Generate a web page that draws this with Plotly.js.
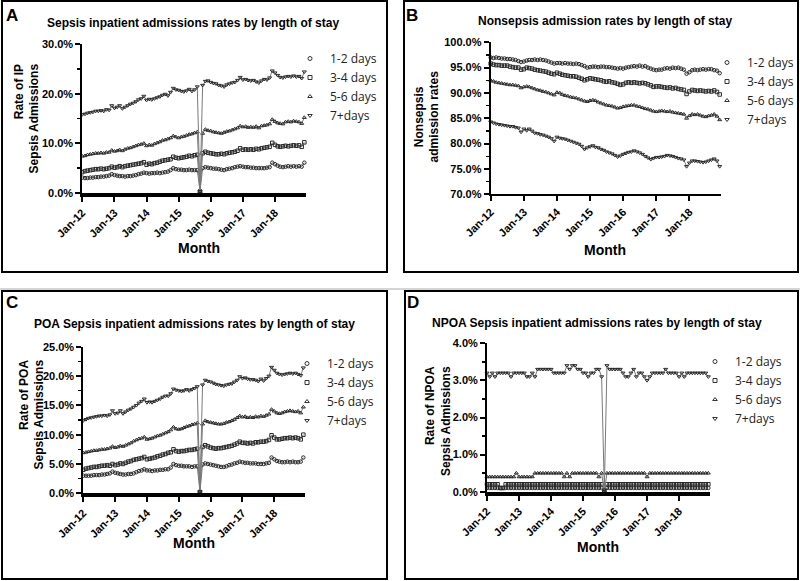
<!DOCTYPE html>
<html>
<head>
<meta charset="utf-8">
<script src="https://cdn.plot.ly/plotly-3.0.1.min.js"></script>
<style>html,body{margin:0;padding:0;background:#fff;}#chart{width:800px;height:581px;}</style>
</head>
<body>
<div id="chart"></div>
<script>
// ---------- categories ----------
const seriesNames = ['1-2 days', '3-4 days', '5-6 days', '7+days'];
const months = [];
for (let yr = 2012; yr <= 2018; yr++) for (let m = 1; m <= 12; m++) months.push(yr + '-' + String(m).padStart(2, '0') + '-01');

// ---------- Panel A: Sepsis inpatient admission rates (%) ----------
const A_12 = [3.1,3.0,3.0,3.1,3.1,3.2,3.2,3.3,3.3,3.4,3.5,3.8,
  3.6,3.5,3.4,3.4,3.3,3.4,3.4,3.5,3.6,3.8,3.9,4.1,
  4.0,3.9,4.0,4.0,4.1,4.0,4.1,4.2,4.3,4.6,5.0,4.8,
  4.7,4.7,4.6,4.6,4.7,4.6,4.6,4.6,0.4,5.0,5.2,5.1,
  5.0,4.9,4.9,4.8,4.7,4.6,4.8,4.9,5.0,5.2,5.3,5.4,
  5.3,5.2,5.2,5.1,5.1,5.0,5.0,5.0,5.0,5.1,5.2,6.1,
  5.8,5.5,5.3,5.2,5.3,5.4,5.3,5.4,5.3,5.4,5.3,6.1];
const A_34 = [4.2,4.4,4.5,4.6,4.7,4.8,4.8,4.9,4.8,4.9,5.0,5.3,
  5.1,5.2,5.4,5.2,5.4,5.5,5.6,5.7,5.8,5.9,6.0,6.2,
  5.7,5.9,5.8,6.0,6.1,6.3,6.5,6.6,6.7,6.8,7.3,7.1,
  7.0,7.1,7.2,7.3,7.5,7.4,7.6,7.7,0.3,8.0,8.3,8.1,
  8.0,7.9,7.8,7.8,7.9,7.8,8.0,8.1,8.2,8.3,8.5,9.0,
  8.7,8.8,8.7,8.8,8.7,8.9,8.8,9.0,9.1,9.2,9.3,10.1,
  9.7,9.4,9.3,9.4,9.5,9.4,9.5,9.6,9.5,9.6,9.3,10.2];
const A_56 = [7.4,7.5,7.7,7.8,7.9,8.0,8.0,8.1,8.0,8.2,8.2,8.6,
  8.4,8.5,8.7,8.5,8.8,9.0,9.1,9.3,9.5,9.7,9.8,10.0,
  9.5,9.7,9.6,9.9,10.1,10.3,10.6,10.7,10.9,11.1,11.5,11.3,
  11.1,11.3,11.4,11.6,11.8,11.9,12.1,12.3,0.2,12.0,12.8,12.6,
  12.5,12.3,12.2,12.1,12.0,12.2,12.4,12.5,12.7,12.9,13.1,13.5,
  13.3,13.4,13.2,13.3,13.2,13.4,13.1,13.5,13.6,13.7,13.9,14.8,
  14.4,14.1,14.0,13.9,14.3,14.4,14.3,14.5,14.4,14.3,14.0,15.2];
const A_7 = [15.8,15.9,16.1,16.2,16.3,16.5,16.5,16.6,16.5,16.8,16.7,17.6,
  17.1,17.3,17.6,17.0,17.3,17.6,17.9,18.1,18.4,18.8,19.0,19.5,
  18.7,18.9,18.8,19.0,19.2,19.4,19.7,19.9,19.6,20.3,21.1,20.8,
  20.7,20.5,20.4,20.6,20.9,20.5,20.8,21.4,0.3,21.7,22.5,22.6,
  22.3,22.1,22.0,21.7,21.6,21.4,21.8,22.0,22.2,22.3,22.7,23.3,
  22.8,22.9,22.7,22.6,22.7,22.4,22.2,22.6,22.9,22.8,23.2,24.6,
  24.2,23.7,23.3,23.2,23.4,23.5,23.4,23.6,23.4,23.5,23.1,24.4];

// ---------- Panel B: Nonsepsis admission rates (%) ----------
const B_12 = [97.0,96.9,97.0,96.9,96.8,96.8,96.7,96.7,96.6,96.5,96.3,96.1,
  96.2,96.4,96.5,96.5,96.6,96.5,96.6,96.5,96.4,96.2,96.0,95.8,
  95.9,95.9,95.8,95.9,95.8,95.8,95.7,95.8,95.7,95.5,95.3,95.0,
  95.1,95.2,95.2,95.1,95.2,95.2,95.1,95.1,95.0,94.9,94.8,94.9,
  94.8,95.0,95.1,95.2,95.3,95.2,95.4,95.2,95.3,95.0,94.8,94.6,
  94.5,94.6,94.6,94.8,94.9,94.8,95.0,94.9,95.0,94.8,94.6,93.8,
  94.1,94.5,94.6,94.5,94.6,94.7,94.6,94.7,94.7,94.5,94.4,93.9];
const B_34 = [95.8,95.6,95.5,95.5,95.4,95.4,95.4,95.2,95.1,95.0,95.0,94.6,
  94.7,95.0,94.9,94.8,94.6,94.5,94.4,94.3,94.2,94.0,93.8,93.7,
  94.0,93.8,93.6,93.5,93.4,93.3,93.3,93.2,93.0,92.8,92.5,92.7,
  92.9,92.8,92.7,92.6,92.5,92.3,92.2,92.3,92.1,92.0,91.8,91.6,
  91.7,92.0,92.1,92.0,92.1,92.0,91.9,92.0,91.9,91.7,91.5,91.2,
  91.3,91.3,91.2,91.1,91.0,91.1,90.9,91.0,90.8,90.7,90.6,89.8,
  90.3,90.6,90.5,90.4,90.5,90.4,90.3,90.4,90.3,90.5,90.2,89.7];
const B_56 = [92.5,92.3,92.1,92.0,91.9,91.8,91.7,91.6,91.6,91.5,91.4,91.0,
  91.2,91.3,91.2,91.0,90.8,90.6,90.5,90.3,90.2,90.0,89.8,89.6,
  90.1,90.0,89.7,89.5,89.4,89.2,89.1,89.0,88.8,88.6,88.4,88.3,
  88.5,88.6,88.5,88.2,88.0,87.8,87.6,87.5,87.4,87.2,87.0,87.1,
  87.3,87.4,87.5,87.6,87.6,87.4,87.3,87.1,86.9,86.8,86.6,86.4,
  86.3,86.4,86.5,86.4,86.3,86.4,86.2,86.1,86.0,85.9,85.8,85.0,
  85.5,85.8,85.7,85.8,85.6,85.4,85.3,85.5,85.6,85.8,85.4,84.7];
const B_7 = [84.3,84.1,83.9,83.8,83.7,83.6,83.5,83.4,83.4,83.2,83.1,82.3,
  82.9,82.6,82.9,82.5,82.1,82.0,81.8,81.7,81.5,81.3,81.0,80.5,
  81.3,81.1,81.0,80.9,80.7,80.5,80.3,80.1,79.9,79.5,78.9,79.2,
  79.4,79.6,79.3,79.2,78.9,78.7,78.4,78.2,78.0,77.7,77.4,77.6,
  77.9,78.1,78.3,78.4,78.6,78.4,78.2,77.9,77.5,77.2,76.9,77.1,
  77.3,77.3,77.4,77.5,77.7,77.6,77.5,77.3,77.1,77.0,76.8,75.5,
  76.2,76.6,76.6,76.5,76.4,76.3,76.4,76.6,76.8,77.0,76.6,75.5];

// ---------- Panel C: POA sepsis inpatient admission rates (%) ----------
const C_12 = [3.0,3.0,3.0,3.0,3.1,3.1,3.1,3.2,3.2,3.3,3.4,3.7,
  3.5,3.4,3.3,3.2,3.2,3.3,3.3,3.4,3.6,3.8,3.9,4.1,
  3.9,3.9,3.8,3.9,3.9,4.0,4.0,4.1,4.1,4.4,5.0,4.8,
  4.7,4.7,4.6,4.6,4.6,4.5,4.6,4.6,0.3,4.9,5.1,5.0,
  4.9,4.8,4.7,4.6,4.5,4.5,4.6,4.8,4.9,5.1,5.2,5.4,
  5.3,5.2,5.2,5.1,5.1,5.1,5.0,5.0,5.0,5.1,5.2,6.1,
  5.8,5.5,5.4,5.3,5.3,5.4,5.3,5.4,5.3,5.3,5.4,6.1];
const C_34 = [4.0,4.2,4.3,4.4,4.5,4.5,4.6,4.7,4.7,4.8,4.7,5.0,
  4.8,4.9,5.1,5.0,5.2,5.4,5.5,5.7,5.8,5.9,6.0,6.2,
  5.8,5.9,6.0,6.1,6.3,6.4,6.6,6.7,6.9,7.0,7.5,7.2,
  7.1,7.2,7.2,7.3,7.4,7.4,7.5,7.6,0.2,7.9,8.2,8.0,
  7.8,7.7,7.6,7.7,7.7,7.8,7.9,8.0,8.1,8.3,8.5,8.8,
  8.6,8.6,8.5,8.6,8.5,8.7,8.7,8.8,8.8,8.9,9.1,9.9,
  9.5,9.2,9.2,9.3,9.4,9.4,9.5,9.4,9.5,9.4,9.2,10.0];
const C_56 = [6.9,7.0,7.1,7.2,7.3,7.3,7.4,7.5,7.5,7.6,7.7,8.0,
  7.8,7.9,8.1,8.0,8.2,8.4,8.6,8.9,9.1,9.3,9.4,9.6,
  9.2,9.3,9.4,9.6,9.8,9.9,10.1,10.3,10.5,10.8,11.3,11.0,
  10.9,11.0,11.2,11.4,11.5,11.7,11.8,12.0,0.2,11.8,12.4,12.2,
  12.1,12.0,11.9,11.8,11.8,11.9,12.1,12.2,12.4,12.6,12.9,13.2,
  13.0,13.1,12.9,13.0,12.9,13.1,13.0,13.2,13.1,13.3,13.5,14.3,
  14.0,13.7,13.6,13.7,13.9,14.0,14.1,14.0,13.9,14.0,13.7,14.7];
const C_7 = [12.4,12.6,12.8,12.9,13.0,13.1,13.2,13.2,13.3,13.2,13.4,14.1,
  13.6,13.7,14.1,13.6,13.9,14.2,14.4,14.7,15.0,15.4,15.7,16.1,
  15.5,15.6,15.5,15.7,15.9,16.1,16.4,16.6,16.6,17.0,17.8,17.6,
  17.5,17.4,17.5,17.7,17.5,17.7,17.9,18.2,0.3,18.5,19.3,19.1,
  19.0,18.8,18.6,18.5,18.4,18.3,18.5,18.6,18.7,19.0,19.3,19.9,
  19.6,19.7,19.5,19.4,19.4,19.3,19.1,19.5,19.2,19.6,20.0,21.5,
  21.0,20.5,20.3,20.2,20.3,20.4,20.5,20.4,20.5,20.3,20.1,21.4];

// ---------- Panel D: NPOA sepsis inpatient admission rates (%) ----------
const D_12 = [0.1,0.1,0.1,0.1,0.1,0.1,0.1,0.1,0.1,0.1,0.1,0.1,
  0.1,0.1,0.1,0.1,0.1,0.1,0.1,0.1,0.1,0.1,0.1,0.1,
  0.1,0.1,0.1,0.1,0.1,0.1,0.1,0.1,0.1,0.1,0.1,0.1,
  0.1,0.1,0.1,0.1,0.1,0.1,0.1,0.1,0.0,0.1,0.1,0.1,
  0.1,0.1,0.1,0.1,0.1,0.1,0.1,0.1,0.1,0.1,0.1,0.1,
  0.1,0.1,0.1,0.1,0.1,0.1,0.1,0.1,0.1,0.1,0.1,0.1,
  0.1,0.1,0.1,0.1,0.1,0.1,0.1,0.1,0.1,0.1,0.1,0.1];
const D_34 = [0.2,0.2,0.2,0.2,0.2,0.1,0.1,0.2,0.2,0.2,0.2,0.2,
  0.2,0.2,0.2,0.2,0.2,0.2,0.2,0.2,0.2,0.2,0.2,0.2,
  0.2,0.2,0.2,0.2,0.2,0.2,0.2,0.2,0.2,0.2,0.2,0.2,
  0.2,0.2,0.2,0.2,0.2,0.2,0.2,0.2,0.0,0.2,0.2,0.2,
  0.2,0.2,0.2,0.2,0.2,0.2,0.2,0.2,0.2,0.2,0.2,0.2,
  0.2,0.2,0.2,0.2,0.2,0.2,0.2,0.2,0.2,0.2,0.2,0.2,
  0.2,0.2,0.2,0.2,0.2,0.2,0.2,0.2,0.2,0.2,0.2,0.2];
const D_56 = [0.4,0.4,0.4,0.4,0.4,0.4,0.4,0.4,0.4,0.4,0.4,0.5,
  0.4,0.4,0.4,0.4,0.4,0.4,0.5,0.5,0.5,0.5,0.5,0.5,
  0.5,0.5,0.5,0.5,0.5,0.4,0.5,0.4,0.5,0.5,0.5,0.5,
  0.5,0.5,0.5,0.5,0.5,0.5,0.4,0.5,0.0,0.5,0.5,0.5,
  0.5,0.5,0.5,0.5,0.5,0.5,0.5,0.5,0.5,0.5,0.5,0.5,
  0.4,0.5,0.5,0.5,0.5,0.5,0.5,0.5,0.5,0.5,0.5,0.5,
  0.5,0.5,0.5,0.5,0.5,0.5,0.5,0.5,0.5,0.5,0.5,0.5];
const D_7 = [3.2,3.1,3.2,3.1,3.2,3.2,3.2,3.2,3.2,3.1,3.2,3.2,
  3.2,3.2,3.2,3.1,3.1,3.2,3.1,3.3,3.3,3.3,3.3,3.3,
  3.3,3.2,3.2,3.2,3.2,3.2,3.4,3.3,3.4,3.4,3.3,3.3,
  3.2,3.2,3.1,3.2,3.2,3.3,3.3,3.1,0.05,3.4,3.3,3.3,
  3.3,3.3,3.3,3.2,3.1,3.1,3.2,3.3,3.1,3.2,3.2,3.1,
  3.0,3.1,3.2,3.2,3.2,3.2,3.2,3.3,3.2,3.2,3.2,3.2,
  3.1,3.2,3.1,3.2,3.2,3.2,3.2,3.2,3.2,3.2,3.2,3.1];

// ---------- styling ----------
const FONT = 'Liberation Sans, Arial, sans-serif';
const symbols = ['circle-open', 'square-open', 'triangle-up-open', 'triangle-down-open'];
const W = 800, H = 581;
const px = v => v / W;
const py = v => 1 - v / H;

const traces = [];
function addPanel(seriesList, xa, ya, legendId) {
  seriesList.forEach((vals, i) => {
    traces.push({
      x: months, y: vals, xaxis: xa, yaxis: ya, type: 'scatter', mode: 'lines+markers',
      cliponaxis: false, showlegend: false, hoverinfo: 'skip',
      line: {color: '#7a7a7a', width: 1},
      marker: {symbol: symbols[i], size: 3.5, color: '#2a2a2a', line: {color: '#2a2a2a', width: 1}}
    });
  });
  seriesNames.forEach((nm, i) => {
    traces.push({
      x: [null], y: [null], xaxis: xa, yaxis: ya, type: 'scatter', mode: 'markers',
      name: nm, legend: legendId, showlegend: true,
      marker: {symbol: symbols[i], size: 4, color: '#333', line: {color: '#333', width: 1}}
    });
  });
}
addPanel([A_12, A_34, A_56, A_7], 'x', 'y', 'legend');
addPanel([B_12, B_34, B_56, B_7], 'x2', 'y2', 'legend2');
addPanel([C_12, C_34, C_56, C_7], 'x3', 'y3', 'legend3');
addPanel([D_12, D_34, D_56, D_7], 'x4', 'y4', 'legend4');

function xAxis(x0, x1, anchor, lw) {
  return {
    domain: [px(x0), px(x1)], anchor: anchor, type: 'date',
    range: ['2012-01-01', '2018-12-20'], tick0: '2012-01-01', dtick: 'M12', tickformat: '%b-%y',
    tickangle: -45, showgrid: false, zeroline: false, showline: true, linecolor: '#000', linewidth: lw,
    ticks: 'outside', ticklen: 5, tickwidth: 2, tickcolor: '#000',
    tickfont: {family: FONT, size: 11, color: '#000', weight: 'bold'}, fixedrange: true
  };
}
function yAxis(yTop, yBot, anchor, range, dtick, minorDtick) {
  return {
    domain: [py(yBot), py(yTop)], anchor: anchor, range: range, dtick: dtick, tick0: 0,
    tickformat: '.1f', ticksuffix: '%', showgrid: false, zeroline: false, showline: true,
    linecolor: '#000', linewidth: 2, ticks: 'outside', ticklen: 5, tickwidth: 2, tickcolor: '#000',
    minor: {dtick: minorDtick, ticks: 'outside', ticklen: 3, tickwidth: 1.5, tickcolor: '#000', showgrid: false},
    tickfont: {family: FONT, size: 11, color: '#000', weight: 'bold'}, fixedrange: true
  };
}
function legendAt(xText, yTop) {
  return {
    x: px(xText - 40), y: py(yTop), xanchor: 'left', yanchor: 'top',
    font: {family: 'Open Sans, sans-serif', size: 12, color: '#222'},
    bgcolor: 'rgba(0,0,0,0)', borderwidth: 0, itemwidth: 30, tracegroupgap: 0
  };
}
function ann(text, x, y, size, extra) {
  return Object.assign({
    text: text, x: px(x), y: py(y), xref: 'paper', yref: 'paper', xanchor: 'center', yanchor: 'middle',
    showarrow: false, font: {family: FONT, size: size, color: '#000', weight: 'bold'}
  }, extra || {});
}
function rect(x0, y0, x1, y1) {
  return {type: 'rect', xref: 'paper', yref: 'paper', x0: px(x0), x1: px(x1), y0: py(y1), y1: py(y0),
    line: {color: '#000', width: 2}, fillcolor: 'rgba(0,0,0,0)', layer: 'above'};
}

const layout = {
  width: W, height: H, margin: {l: 0, r: 0, t: 0, b: 0, pad: 0},
  paper_bgcolor: '#fff', plot_bgcolor: '#fff', showlegend: true,
  xaxis: xAxis(82.3, 306, 'y', 4),
  yaxis: yAxis(44, 193, 'x', [0, 30], 10, 5),
  xaxis2: xAxis(490.7, 721.4, 'y2', 2),
  yaxis2: yAxis(42.3, 194.3, 'x2', [70, 100], 5, 2.5),
  xaxis3: xAxis(83.3, 305, 'y3', 4),
  yaxis3: yAxis(346.7, 493.3, 'x3', [0, 25], 5, 2.5),
  xaxis4: xAxis(487, 710, 'y4', 4),
  yaxis4: yAxis(343.3, 491.7, 'x4', [0, 4], 1, 0.5),
  legend: legendAt(330, 44),
  legend2: legendAt(747, 48),
  legend3: legendAt(327, 349),
  legend4: legendAt(735, 347),
  shapes: [
    rect(2, 1, 387, 272), rect(404, 1, 798, 272),
    rect(2, 291, 387, 579), rect(405, 291, 798, 579),
    {type: 'line', xref: 'paper', yref: 'paper', x0: 0, x1: 1, y0: py(289), y1: py(289), line: {color: '#aaa', width: 1}}
  ],
  annotations: [
    ann('A', 12, 15, 17), ann('B', 412, 15, 17), ann('C', 12, 303, 17), ann('D', 413, 303, 17),
    ann('Sepsis inpatient admissions rates by length of stay', 193, 23, 12),
    ann('Nonsepsis admission rates by length of stay', 605, 21, 12),
    ann('POA Sepsis inpatient admissions rates by length of stay', 194, 324, 12),
    ann('NPOA Sepsis inpatient admissions rates by length of stay', 597, 323, 12),
    ann('Month', 199, 248, 14), ann('Month', 605, 250, 14),
    ann('Month', 194, 543, 14), ann('Month', 598, 547, 14),
    ann('Rate of IP<br>Sepsis Admissions', 26.5, 119, 12, {textangle: -90, align: 'right'}),
    ann('Nonsepsis<br>admission rates', 426.5, 116, 12, {textangle: -90, align: 'center'}),
    ann('Rate of POA<br>Sepsis Admissions', 31.5, 415, 12, {textangle: -90, align: 'right'}),
    ann('Rate of NPOA<br>Sepsis Admissions', 438, 421, 12, {textangle: -90, align: 'right'})
  ]
};

Plotly.newPlot('chart', traces, layout, {displayModeBar: false, staticPlot: true});
</script>
</body>
</html>
